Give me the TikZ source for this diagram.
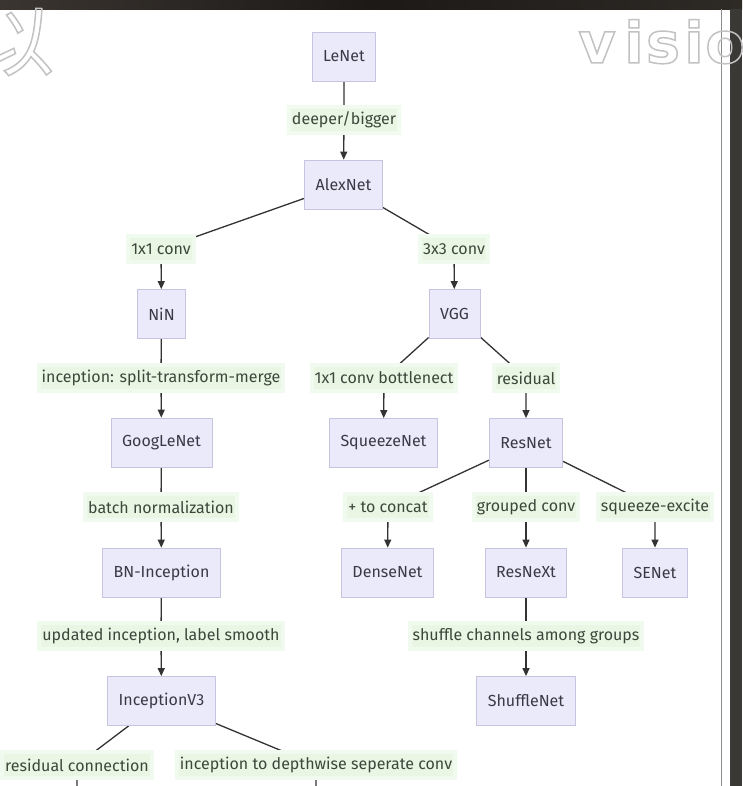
\documentclass[tikz,border=0pt]{standalone}
\usepackage{fontspec}
\setmainfont{Fira Sans}
\newfontfamily\cjkwm{Noto Sans CJK SC}
\newfontfamily\wmfont{DejaVu Sans}
\usetikzlibrary{arrows.meta}

\pgfdeclarelayer{backdrop}
\pgfdeclarelayer{edges}
\pgfdeclarelayer{overlay}
\pgfsetlayers{backdrop,edges,main,overlay}

\definecolor{nodefill}{HTML}{EAEAFA}
\definecolor{nodeline}{HTML}{C6C4DE}
\definecolor{nodetext}{HTML}{3A3A46}
\definecolor{lblfill}{HTML}{E8F6E3}
\definecolor{lblhalo}{HTML}{F1FAEE}
\definecolor{lbltext}{HTML}{3C473C}
\definecolor{edgecol}{HTML}{333333}
\definecolor{frameA}{HTML}{3A3531}
\definecolor{frameB}{HTML}{1C1917}
\definecolor{frameC}{HTML}{2E2A26}
\definecolor{framedark}{HTML}{3B3935}
\definecolor{rulegray}{HTML}{8C8C8C}
\definecolor{wmgray}{HTML}{C4C4C4}

% stroked (hollow) glyphs for the watermark lettering
\newcommand{\hollowtext}[1]{\special{pdf:literal direct 1 Tr 1.5 w 0.76 0.76 0.76 RG}#1\special{pdf:literal direct 0 Tr}}

\begin{document}
\begin{tikzpicture}[x=1pt,y=-1pt,
  net/.style={draw=nodeline, fill=nodefill, line width=0.8pt,
    minimum height=49pt, inner xsep=11pt, text=nodetext,
    font=\fontsize{16}{18}\selectfont},
  lbl/.style={fill=lblfill, draw=lblhalo, line width=4pt,
    inner xsep=3pt, inner ysep=0pt, minimum height=26pt, text=lbltext,
    font=\fontsize{16}{18}\selectfont},
  edge/.style={draw=edgecol, line width=1.3pt},
  arr/.style={edge, -{Triangle[length=8pt,width=7pt]}},
  wm/.style={inner sep=0pt, text=wmgray},
  wmletter/.style={wm, font=\wmfont\bfseries\fontsize{57}{57}\selectfont, anchor=base}
]
\useasboundingbox (0,0) rectangle (742,786);
\clip (0,0) rectangle (742,786);

\begin{pgfonlayer}{backdrop}
  \fill[white] (0,0) rectangle (742,786);
\end{pgfonlayer}

% network boxes
\node[net] (lenet)   at (344,56.5)   {LeNet};
\node[net] (alex)    at (343.5,184.5) {AlexNet};
\node[net] (nin)     at (161.5,314)  {NiN};
\node[net] (vgg)     at (454.5,314)  {VGG};
\node[net] (goog)    at (161.5,442.5) {GoogLeNet};
\node[net] (squeeze) at (383.5,443)  {SqueezeNet};
\node[net] (resnet)  at (526,443)    {ResNet};
\node[net] (bninc)   at (161.5,572.5) {BN-Inception};
\node[net] (dense)   at (387.5,572.5) {DenseNet};
\node[net] (resnext) at (526,572.5)  {ResNeXt};
\node[net] (senet)   at (655,572.5)  {SENet};
\node[net] (incv3)   at (161.5,701)  {InceptionV3};
\node[net] (shuffle) at (526,701)    {ShuffleNet};

% edge labels
\node[lbl] (ldeep)    at (344,120)  {deeper/bigger};
\node[lbl] (l11)      at (161,249)  {1x1 conv};
\node[lbl] (l33)      at (454,249)  {3x3 conv};
\node[lbl] (lincep)   at (161,378)  {inception: split-transform-merge};
\node[lbl] (lbott)    at (384,378)  {1x1 conv bottlenect};
\node[lbl] (lres)     at (526,378)  {residual};
\node[lbl] (lbn)      at (161,507)  {batch normalization};
\node[lbl] (lconcat)  at (388,507)  {+ to concat};
\node[lbl] (lgroup)   at (526,507)  {grouped conv};
\node[lbl] (lse)      at (655,507)  {squeeze-excite};
\node[lbl] (lupd)     at (161,636)  {updated inception, label smooth};
\node[lbl] (lshuf)    at (526,636)  {shuffle channels among groups};
\node[lbl] (lrc)      at (77,765)   {residual connection};
\node[lbl] (ldw)      at (316,765)  {inception to depthwise seperate conv};

% edges continuing past the lower border
\coordinate (rcout) at (77,820);
\coordinate (dwout) at (316,820);

\begin{pgfonlayer}{edges}
  \draw[arr] (lenet) -- (ldeep.center) -- (alex);
  \draw[arr] (alex) -- (l11.center) -- (nin);
  \draw[arr] (alex) -- (l33.center) -- (vgg);
  \draw[arr] (nin) -- (lincep.center) -- (goog);
  \draw[arr] (vgg) -- (lbott.center) -- (squeeze);
  \draw[arr] (vgg) -- (lres.center) -- (resnet);
  \draw[arr] (goog) -- (lbn.center) -- (bninc);
  \draw[arr] (resnet) -- (lconcat.center) -- (dense);
  \draw[arr] (resnet) -- (lgroup.center) -- (resnext);
  \draw[arr] (resnet) -- (lse.center) -- (senet);
  \draw[arr] (bninc) -- (lupd.center) -- (incv3);
  \draw[arr] (resnext) -- (lshuf.center) -- (shuffle);
  \draw[edge] (incv3) -- (lrc.center) -- (rcout);
  \draw[edge] (incv3) -- (ldw.center) -- (dwout);
\end{pgfonlayer}

\begin{pgfonlayer}{overlay}
  % dark surround
  \shade[left color=frameA, right color=frameC, middle color=frameB]
    (0,0) rectangle (742,9.5);
  \fill[framedark] (730,9.5) rectangle (742,786);
  \draw[rulegray, line width=1pt] (721.5,9.5) -- (721.5,786);
  % watermark lettering
  \node[wm, font=\cjkwm\fontsize{76}{76}\selectfont] (wmyi) at (16,42) {\hollowtext{以}};
  \node[wmletter] (wmv)  at (597,63) {\hollowtext{v}};
  \node[wmletter] (wmi)  at (634,63) {\hollowtext{i}};
  \node[wmletter] (wms)  at (663,63) {\hollowtext{s}};
  \node[wmletter] (wmii) at (694,63) {\hollowtext{i}};
  \node[wmletter] (wmo)  at (725,63) {\hollowtext{o}};
\end{pgfonlayer}
\end{tikzpicture}
\end{document}
